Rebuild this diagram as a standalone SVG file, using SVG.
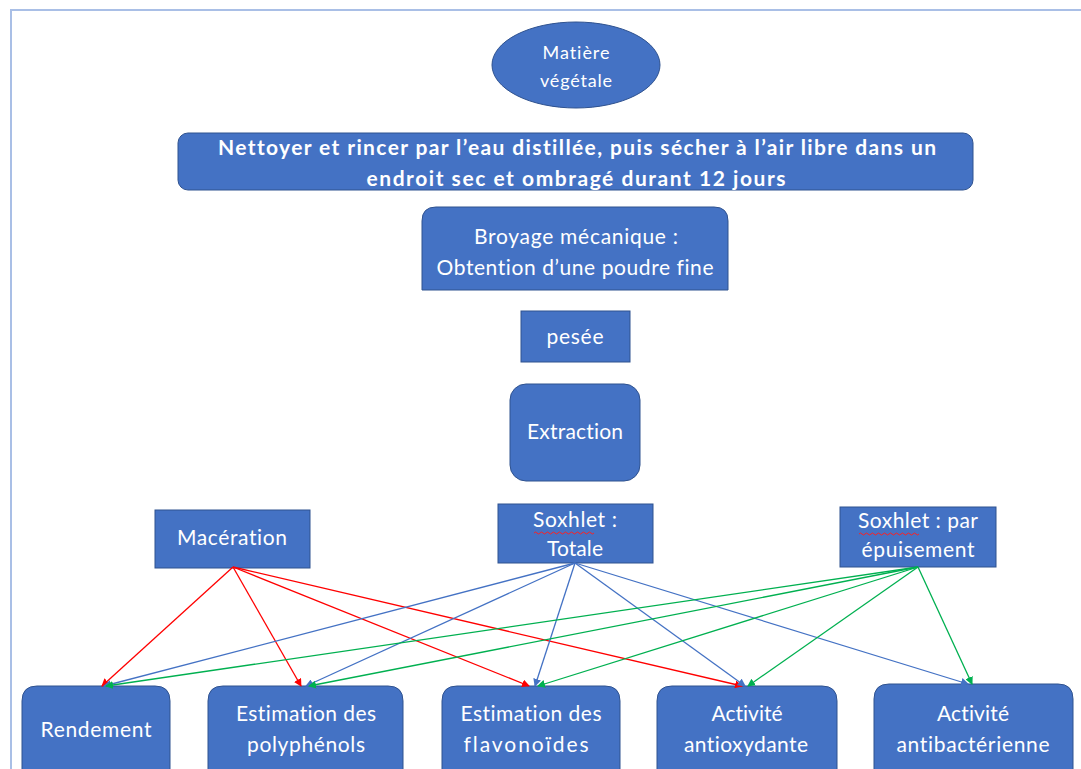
<svg xmlns="http://www.w3.org/2000/svg" width="1081" height="769" viewBox="0 0 1081 769">
<defs>
<style>
.n{fill:#4472C4;stroke:#2F528F;stroke-width:1}
.t{font-family:Lato,"Liberation Sans",Arial,sans-serif;font-size:21px;fill:#ffffff;text-anchor:middle;font-variant-ligatures:none}
.b{font-weight:bold}
.r{stroke:#FF0000;stroke-width:1.3;fill:none}
.u{stroke:#4472C4;stroke-width:1.3;fill:none}
.g{stroke:#00B050;stroke-width:1.3;fill:none}
.w{stroke:#FF2020;stroke-width:1;fill:none}
</style>
<marker id="mr" markerWidth="8" markerHeight="8" refX="7" refY="4" orient="auto" markerUnits="userSpaceOnUse"><path d="M0,0 L8,4 L0,8 Z" fill="#FF0000"/></marker>
<marker id="mu" markerWidth="8" markerHeight="8" refX="7" refY="4" orient="auto" markerUnits="userSpaceOnUse"><path d="M0,0 L8,4 L0,8 Z" fill="#4472C4"/></marker>
<marker id="mg" markerWidth="8" markerHeight="8" refX="7" refY="4" orient="auto" markerUnits="userSpaceOnUse"><path d="M0,0 L8,4 L0,8 Z" fill="#00B050"/></marker>
</defs>
<rect width="1081" height="769" fill="#ffffff"/>
<path d="M11,769 V10 H1081" fill="none" stroke="#A9BFE6" stroke-width="2"/>

<g id="matiere">
<ellipse class="n" cx="576" cy="65" rx="84" ry="43"/>
<text class="t" x="576" y="59" style="font-size:18px" textLength="67">Matière</text>
<text class="t" x="576" y="87" style="font-size:18px" textLength="72">végétale</text>
</g>

<g id="nettoyer">
<rect class="n" x="178" y="133" width="795" height="57" rx="10"/>
<text class="t b" x="577" y="155" style="font-size:21px" textLength="718">Nettoyer et rincer par l’eau distillée, puis sécher à l’air libre dans un</text>
<text class="t b" x="576" y="186" style="font-size:21px" textLength="419">endroit sec et ombragé durant 12 jours</text>
</g>

<g id="broyage">
<path class="n" d="M422,290 V221 Q422,207 436,207 H714 Q728,207 728,221 V290 Z"/>
<text class="t" x="576" y="244" textLength="204">Broyage mécanique :</text>
<text class="t" x="575" y="275" textLength="277">Obtention d’une poudre fine</text>
</g>

<g id="pesee">
<rect class="n" x="521" y="311" width="109" height="51"/>
<text class="t" x="575" y="344" textLength="57">pesée</text>
</g>

<g id="extraction">
<rect class="n" x="510" y="384" width="130" height="97" rx="16"/>
<text class="t" x="575" y="439" textLength="96">Extraction</text>
</g>

<g id="maceration">
<rect class="n" x="155" y="510" width="155" height="58"/>
<text class="t" x="232" y="545" textLength="110">Macération</text>
</g>

<g id="soxhlet-totale">
<rect class="n" x="498" y="504" width="155" height="59"/>
<text class="t" x="575" y="527" textLength="84">Soxhlet :</text>
<path class="w" d="M534,533 q1.5,-2 3,0 t3,0 t3,0 t3,0 t3,0 t3,0 t3,0 t3,0 t3,0 t3,0 t3,0 t3,0 t3,0 t3,0 t3,0 t3,0 t3,0 t3,0 t3,0 t3,0"/>
<text class="t" x="575" y="556" textLength="56">Totale</text>
</g>

<g id="soxhlet-epuisement">
<rect class="n" x="840" y="507" width="156" height="60"/>
<text class="t" x="918" y="528" textLength="120">Soxhlet : par</text>
<path class="w" d="M859,534 q1.5,-2 3,0 t3,0 t3,0 t3,0 t3,0 t3,0 t3,0 t3,0 t3,0 t3,0 t3,0 t3,0 t3,0 t3,0 t3,0 t3,0 t3,0 t3,0 t3,0 t3,0"/>
<text class="t" x="918" y="557" textLength="113">épuisement</text>
</g>

<g id="rendement">
<path class="n" d="M22,780 V701 Q22,686 37,686 H155 Q170,686 170,701 V780 Z"/>
<text class="t" x="96" y="737" textLength="111">Rendement</text>
</g>

<g id="polyphenols">
<path class="n" d="M208,780 V701 Q208,686 223,686 H388 Q403,686 403,701 V780 Z"/>
<text class="t" x="306" y="721" textLength="140">Estimation des</text>
<text class="t" x="306" y="752" textLength="118">polyphénols</text>
</g>

<g id="flavonoides">
<path class="n" d="M442,780 V701 Q442,686 457,686 H605 Q620,686 620,701 V780 Z"/>
<text class="t" x="531" y="721" textLength="141">Estimation des</text>
<text class="t" x="526" y="752" textLength="125">flavonoïdes</text>
</g>

<g id="antioxydante">
<path class="n" d="M657,780 V701 Q657,686 672,686 H822 Q837,686 837,701 V780 Z"/>
<text class="t" x="747" y="721" textLength="71">Activité</text>
<text class="t" x="746" y="752" textLength="124">antioxydante</text>
</g>

<g id="antibacterienne">
<path class="n" d="M874,780 V699 Q874,684 889,684 H1058 Q1073,684 1073,699 V780 Z"/>
<text class="t" x="973" y="721" textLength="72">Activité</text>
<text class="t" x="973" y="752" textLength="153">antibactérienne</text>
</g>

<g id="connectors">
<line class="r" x1="233" y1="567" x2="102" y2="686" marker-end="url(#mr)"/>
<line class="r" x1="233" y1="567" x2="301" y2="686" marker-end="url(#mr)"/>
<line class="r" x1="233" y1="567" x2="529" y2="686" marker-end="url(#mr)"/>
<line class="r" x1="233" y1="567" x2="742" y2="686" marker-end="url(#mr)"/>
<line class="u" x1="575" y1="563" x2="104" y2="686" marker-end="url(#mu)"/>
<line class="u" x1="575" y1="563" x2="306" y2="686" marker-end="url(#mu)"/>
<line class="u" x1="575" y1="563" x2="535" y2="686" marker-end="url(#mu)"/>
<line class="u" x1="575" y1="563" x2="745" y2="686" marker-end="url(#mu)"/>
<line class="u" x1="575" y1="563" x2="968" y2="684" marker-end="url(#mu)"/>
<line class="g" x1="918" y1="567" x2="106" y2="686" marker-end="url(#mg)"/>
<line class="g" x1="918" y1="567" x2="309" y2="686" marker-end="url(#mg)"/>
<line class="g" x1="918" y1="567" x2="538" y2="686" marker-end="url(#mg)"/>
<line class="g" x1="918" y1="567" x2="748" y2="686" marker-end="url(#mg)"/>
<line class="g" x1="918" y1="567" x2="972" y2="684" marker-end="url(#mg)"/>
</g>
</svg>
